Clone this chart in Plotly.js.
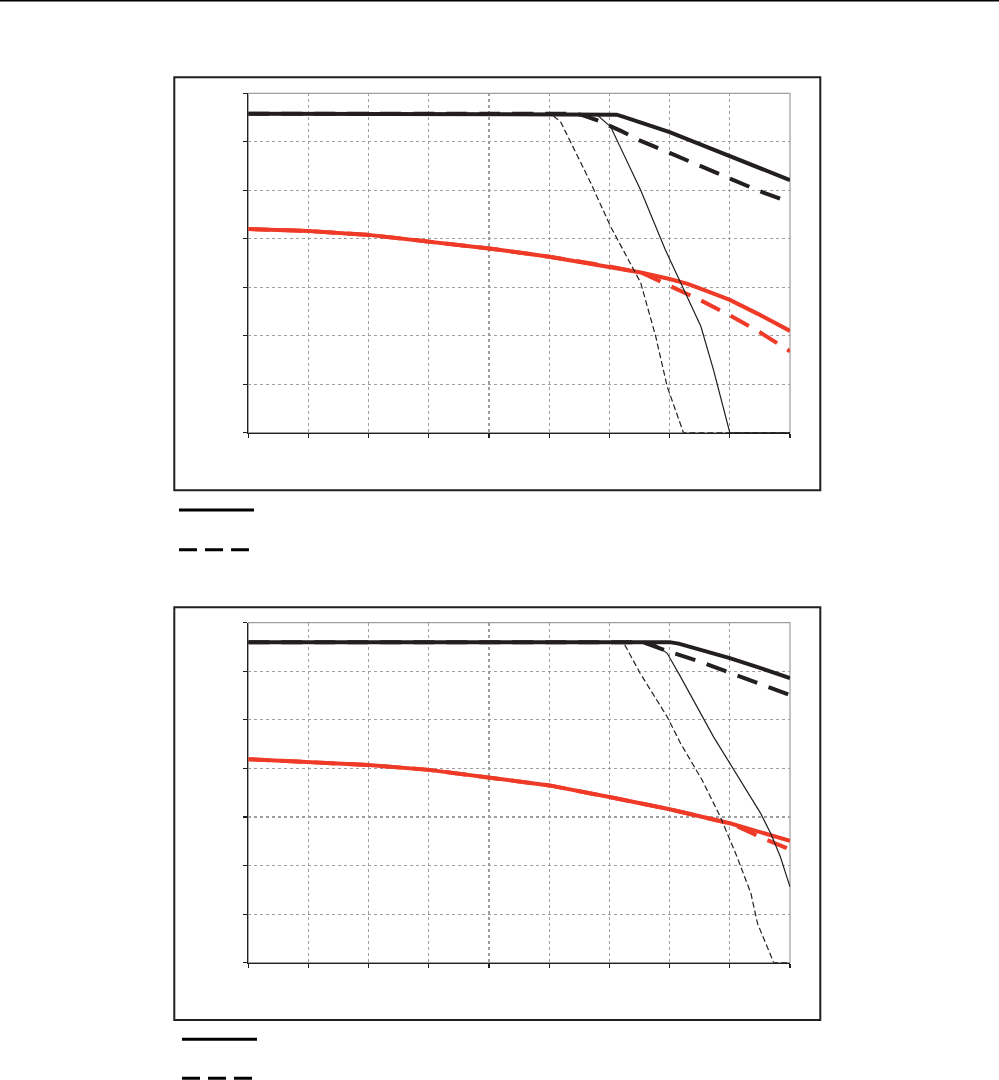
<!DOCTYPE html>
<html>
<head>
<meta charset="utf-8">
<script src="https://cdn.plot.ly/plotly-3.0.1.min.js"></script>
<style>html,body{margin:0;padding:0;background:#fff;}#chart{width:999px;height:1080px;}</style>
</head>
<body>
<div id="chart"></div>
<script>
// ---------- Chart A (upper) ----------
const aThickSolidX = [0, 6, 6.12, 6.25, 6.5, 7, 7.5, 8, 8.5, 9];
const aThickSolidY = [6.58, 6.58, 6.56, 6.51, 6.40, 6.20, 5.95, 5.70, 5.45, 5.21];
const aThickDashX = [0, 5.45, 5.6, 5.8, 6.2, 6.5, 7, 7.5, 8, 8.5, 9];
const aThickDashY = [6.58, 6.58, 6.53, 6.44, 6.22, 6.03, 5.77, 5.51, 5.25, 4.98, 4.75];
const aThinSolidX = [0, 5.77, 6.02, 6.52, 6.93, 7.18, 7.52, 7.73, 8.0, 9];
const aThinSolidY = [6.58, 6.58, 6.31, 5.0, 3.77, 3.09, 2.19, 1.29, 0, 0];
const aThinDashX = [0, 5.02, 5.19, 5.69, 6.02, 6.52, 6.77, 6.96, 7.23, 9];
const aThinDashY = [6.58, 6.58, 6.41, 5.15, 4.25, 3.09, 1.98, 0.95, 0, 0];
const aRedSolidX = [0, 1, 2, 3, 4, 5, 6, 6.5, 7, 7.3, 7.6, 8, 8.5, 9];
const aRedSolidY = [4.20, 4.16, 4.08, 3.94, 3.80, 3.63, 3.43, 3.31, 3.17, 3.07, 2.93, 2.74, 2.43, 2.10];
const aRedDashX = [0, 1, 2, 3, 4, 5, 6, 6.55, 7, 7.5, 8, 8.5, 9];
const aRedDashY = [4.20, 4.16, 4.08, 3.94, 3.80, 3.63, 3.43, 3.29, 3.03, 2.74, 2.42, 2.07, 1.68];

// ---------- Chart B (lower) ----------
const bThickSolidX = [0, 7, 7.15, 7.45, 8, 8.5, 9];
const bThickSolidY = [6.60, 6.60, 6.57, 6.47, 6.27, 6.07, 5.86];
const bThickDashX = [0, 6.55, 7, 7.5, 8, 8.5, 9];
const bThickDashY = [6.60, 6.60, 6.40, 6.20, 5.97, 5.75, 5.51];
const bThinSolidX = [0, 6.71, 6.96, 7.18, 7.73, 8.17, 8.51, 8.68, 8.84, 9];
const bThinSolidY = [6.60, 6.60, 6.37, 5.89, 4.65, 3.76, 3.08, 2.66, 2.18, 1.56];
const bThinDashX = [0, 6.23, 6.51, 6.96, 7.18, 7.54, 7.84, 8.12, 8.35, 8.46, 8.73, 9];
const bThinDashY = [6.60, 6.60, 5.96, 5.06, 4.52, 3.76, 3.01, 2.18, 1.43, 0.81, 0, 0];
const bRedSolidX = [0, 1, 2, 3, 4, 5, 6, 7, 8, 8.5, 9];
const bRedSolidY = [4.19, 4.14, 4.07, 3.97, 3.81, 3.65, 3.41, 3.16, 2.87, 2.69, 2.51];
const bRedDashX = [0, 1, 2, 3, 4, 5, 6, 7, 8.05, 8.5, 9];
const bRedDashY = [4.19, 4.14, 4.07, 3.97, 3.81, 3.65, 3.41, 3.16, 2.85, 2.59, 2.33];

const BLACK = '#231f20';
const RED = '#ee3a27';
const GRID = '#9e9e9e';

function tr(x, y, color, width, dash, xa, ya) {
  return {x: x, y: y, type: 'scatter', mode: 'lines', xaxis: xa, yaxis: ya,
          line: {color: color, width: width, dash: dash}, hoverinfo: 'skip', showlegend: false};
}
const TD = '21px,12px', tD = '6px,3px';
const data = [
  tr(aRedSolidX, aRedSolidY, RED, 4, 'solid', 'x', 'y'),
  tr(aRedDashX, aRedDashY, RED, 4, TD, 'x', 'y'),
  tr(aThickSolidX, aThickSolidY, BLACK, 4, 'solid', 'x', 'y'),
  tr(aThickDashX, aThickDashY, BLACK, 4, TD, 'x', 'y'),
  tr(aThinSolidX, aThinSolidY, BLACK, 1.2, 'solid', 'x', 'y'),
  tr(aThinDashX, aThinDashY, BLACK, 1.2, tD, 'x', 'y'),
  tr(bRedSolidX, bRedSolidY, RED, 4, 'solid', 'x2', 'y2'),
  tr(bRedDashX, bRedDashY, RED, 4, TD, 'x2', 'y2'),
  tr(bThickSolidX, bThickSolidY, BLACK, 4, 'solid', 'x2', 'y2'),
  tr(bThickDashX, bThickDashY, BLACK, 4, TD, 'x2', 'y2'),
  tr(bThinSolidX, bThinSolidY, BLACK, 1.2, 'solid', 'x2', 'y2'),
  tr(bThinDashX, bThinDashY, BLACK, 1.2, tD, 'x2', 'y2')
];

const W = 999, H = 1080;
const px = v => v / W, py = v => 1 - v / H;

function xax(anchor) {
  return {domain: [px(248.3), px(790)], range: [0, 9], dtick: 1, tick0: 0, anchor: anchor,
          showgrid: true, gridcolor: GRID, griddash: 'dot', gridwidth: 1.2,
          showline: true, linecolor: BLACK, linewidth: 1.3, zeroline: false,
          ticks: 'outside', ticklen: 4, tickwidth: 1.2, tickcolor: BLACK,
          showticklabels: false, fixedrange: true};
}
function yax(domain, anchor) {
  return {domain: domain, range: [0, 7], dtick: 1, tick0: 0, anchor: anchor,
          showgrid: true, gridcolor: GRID, griddash: 'dot', gridwidth: 1.2,
          showline: true, linecolor: BLACK, linewidth: 1.3, zeroline: false,
          ticks: 'outside', ticklen: 4, tickwidth: 1.2, tickcolor: BLACK,
          showticklabels: false, fixedrange: true};
}

const shapes = [
  // page rule
  {type: 'line', xref: 'paper', yref: 'paper', x0: 0, x1: 1, y0: py(0.8), y1: py(0.8), line: {color: '#000', width: 1.6}},
  // chart area boxes
  {type: 'rect', xref: 'paper', yref: 'paper', x0: px(174.3), x1: px(820.3), y0: py(490.3), y1: py(77.3), line: {color: BLACK, width: 2}},
  {type: 'rect', xref: 'paper', yref: 'paper', x0: px(174.3), x1: px(820.3), y0: py(1020), y1: py(607.3), line: {color: BLACK, width: 2}},
  // plot area borders (grey)
  {type: 'rect', xref: 'x domain', yref: 'y domain', x0: 0, x1: 1, y0: 0, y1: 1, line: {color: GRID, width: 1.2}, layer: 'below'},
  {type: 'rect', xref: 'x2 domain', yref: 'y2 domain', x0: 0, x1: 1, y0: 0, y1: 1, line: {color: GRID, width: 1.2}, layer: 'below'},
  // legend keys
  {type: 'line', xref: 'paper', yref: 'paper', x0: px(179), x1: px(254), y0: py(510), y1: py(510), line: {color: '#000', width: 3}},
  {type: 'line', xref: 'paper', yref: 'paper', x0: px(179), x1: px(250), y0: py(549.7), y1: py(549.7), line: {color: '#000', width: 3, dash: '18px,8px'}},
  {type: 'line', xref: 'paper', yref: 'paper', x0: px(182), x1: px(257), y0: py(1039.3), y1: py(1039.3), line: {color: '#000', width: 3}},
  {type: 'line', xref: 'paper', yref: 'paper', x0: px(182), x1: px(253), y0: py(1078.3), y1: py(1078.3), line: {color: '#000', width: 3, dash: '18px,8px'}}
];

const layout = {
  width: W, height: H,
  margin: {l: 0, r: 0, t: 0, b: 0},
  paper_bgcolor: '#ffffff', plot_bgcolor: '#ffffff',
  showlegend: false,
  xaxis: xax('y'),
  yaxis: yax([py(432.7), py(93.3)], 'x'),
  xaxis2: xax('y2'),
  yaxis2: yax([py(962.7), py(622.7)], 'x2'),
  shapes: shapes
};

Plotly.newPlot('chart', data, layout, {displayModeBar: false, staticPlot: true});
</script>
</body>
</html>
